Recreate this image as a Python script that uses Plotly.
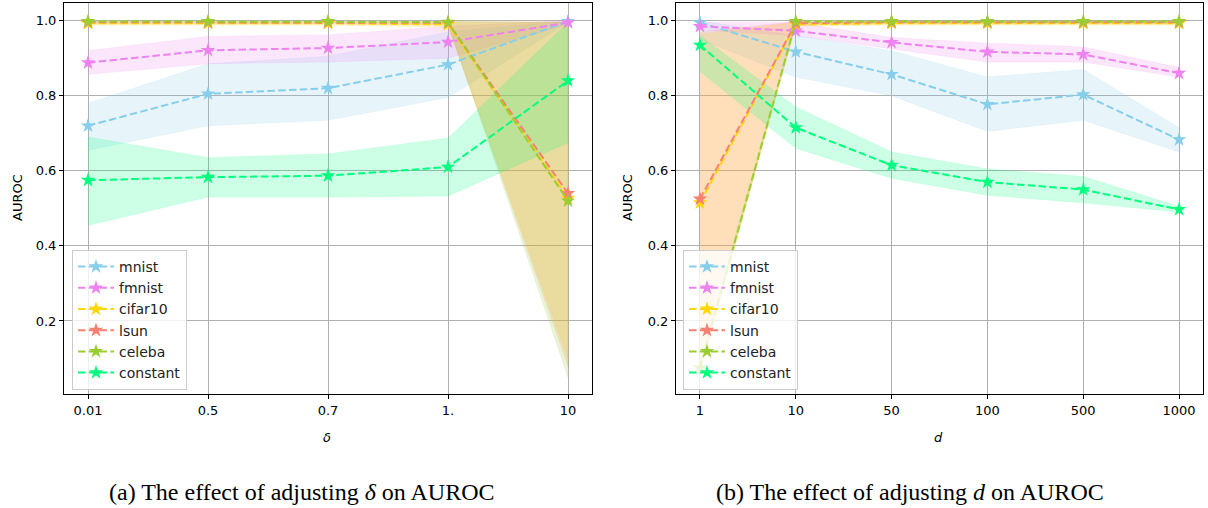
import plotly.graph_objects as go

# ---------------- data ----------------
delta_labels = ["0.01", "0.5", "0.7", "1.", "10"]
d_labels = ["1", "10", "50", "100", "500", "1000"]
series_names = ["mnist", "fmnist", "cifar10", "lsun", "celeba", "constant"]
series_colors = ["#87CEEB", "#EE82EE", "#FFD700", "#FA8072", "#9ACD32", "#00FF7F"]

# panel (a): effect of delta
a_mnist = [0.720, 0.805, 0.820, 0.883, 0.998]
a_mnist_lo = [0.655, 0.720, 0.735, 0.795, 0.995]
a_mnist_hi = [0.780, 0.885, 0.905, 0.970, 1.000]
a_fmnist = [0.888, 0.921, 0.927, 0.943, 0.995]
a_fmnist_lo = [0.857, 0.885, 0.890, 0.900, 0.990]
a_fmnist_hi = [0.920, 0.958, 0.962, 0.985, 1.000]
a_cifar10 = [0.993, 0.993, 0.993, 0.990, 0.527]
a_cifar10_lo = [0.988, 0.988, 0.988, 0.983, 0.100]
a_cifar10_hi = [0.997, 0.997, 0.997, 0.996, 0.995]
a_lsun = [0.996, 0.996, 0.996, 0.994, 0.540]
a_lsun_lo = [0.992, 0.992, 0.992, 0.988, 0.080]
a_lsun_hi = [0.999, 0.999, 0.999, 0.998, 0.997]
a_celeba = [0.998, 0.998, 0.998, 0.996, 0.520]
a_celeba_lo = [0.995, 0.995, 0.995, 0.992, 0.050]
a_celeba_hi = [1.000, 1.000, 1.000, 0.999, 0.995]
a_constant = [0.575, 0.583, 0.587, 0.610, 0.840]
a_constant_lo = [0.455, 0.530, 0.530, 0.533, 0.675]
a_constant_hi = [0.690, 0.635, 0.645, 0.687, 0.995]

# panel (b): effect of d
b_mnist = [0.995, 0.917, 0.857, 0.777, 0.803, 0.683]
b_mnist_lo = [0.950, 0.850, 0.800, 0.705, 0.735, 0.650]
b_mnist_hi = [1.000, 0.960, 0.920, 0.850, 0.870, 0.715]
b_fmnist = [0.985, 0.973, 0.942, 0.917, 0.910, 0.860]
b_fmnist_lo = [0.975, 0.960, 0.925, 0.890, 0.890, 0.850]
b_fmnist_hi = [0.995, 0.995, 0.955, 0.940, 0.930, 0.875]
b_cifar10 = [0.515, 0.990, 0.993, 0.993, 0.993, 0.993]
b_cifar10_lo = [0.060, 0.985, 0.988, 0.988, 0.988, 0.988]
b_cifar10_hi = [0.965, 0.995, 0.997, 0.997, 0.997, 0.997]
b_lsun = [0.525, 0.993, 0.996, 0.996, 0.996, 0.996]
b_lsun_lo = [0.080, 0.988, 0.992, 0.992, 0.992, 0.992]
b_lsun_hi = [0.970, 0.997, 0.999, 0.999, 0.999, 0.999]
b_celeba = [0.075, 0.998, 0.998, 0.998, 0.998, 0.998]
b_celeba_lo = [0.060, 0.995, 0.995, 0.995, 0.995, 0.995]
b_celeba_hi = [0.090, 1.000, 1.000, 1.000, 1.000, 1.000]
b_constant = [0.935, 0.715, 0.615, 0.570, 0.550, 0.497]
b_constant_lo = [0.865, 0.660, 0.580, 0.535, 0.515, 0.490]
b_constant_hi = [0.960, 0.770, 0.650, 0.605, 0.585, 0.505]

panel_a = [
    (a_mnist, a_mnist_lo, a_mnist_hi),
    (a_fmnist, a_fmnist_lo, a_fmnist_hi),
    (a_cifar10, a_cifar10_lo, a_cifar10_hi),
    (a_lsun, a_lsun_lo, a_lsun_hi),
    (a_celeba, a_celeba_lo, a_celeba_hi),
    (a_constant, a_constant_lo, a_constant_hi),
]
panel_b = [
    (b_mnist, b_mnist_lo, b_mnist_hi),
    (b_fmnist, b_fmnist_lo, b_fmnist_hi),
    (b_cifar10, b_cifar10_lo, b_cifar10_hi),
    (b_lsun, b_lsun_lo, b_lsun_hi),
    (b_celeba, b_celeba_lo, b_celeba_hi),
    (b_constant, b_constant_lo, b_constant_hi),
]


def rgba(hexc, a):
    h = hexc.lstrip("#")
    r, g, b = int(h[0:2], 16), int(h[2:4], 16), int(h[4:6], 16)
    return f"rgba({r},{g},{b},{a})"


W, H = 1208, 508
fig = go.Figure()

panels = [
    (delta_labels, panel_a, "x", "y", "legend"),
    (d_labels, panel_b, "x2", "y2", "legend2"),
]

# fills first (below all lines)
for cats, data, xa, ya, lg in panels:
    for (vals, lo, hi), name, col in zip(data, series_names, series_colors):
        fig.add_trace(go.Scatter(
            x=list(cats) + list(cats)[::-1],
            y=list(hi) + list(lo)[::-1],
            fill="toself", fillcolor=rgba(col, 0.2),
            line=dict(width=0.6, color=rgba(col, 0.2)), mode="lines",
            hoverinfo="skip", showlegend=False, xaxis=xa, yaxis=ya,
        ))

for cats, data, xa, ya, lg in panels:
    for (vals, lo, hi), name, col in zip(data, series_names, series_colors):
        fig.add_trace(go.Scatter(
            x=cats, y=vals, name=name, mode="lines+markers",
            line=dict(color=col, width=2, dash="7.5px,3.3px"),
            marker=dict(symbol="star", size=11, color=col, line=dict(width=0)),
            xaxis=xa, yaxis=ya, legend=lg,
        ))

tickfont = dict(family="DejaVu Sans", size=13, color="black")
ax_common = dict(
    showline=True, mirror=True, linecolor="black", linewidth=1,
    ticks="outside", ticklen=4, tickcolor="black", tickwidth=1,
    showgrid=True, gridcolor="#b0b0b0", gridwidth=0.8,
    zeroline=False, tickfont=tickfont,
)
yd = [1 - 394 / H, 1 - 3 / H]
legend_common = dict(
    xanchor="left", yanchor="top",
    bgcolor="rgba(255,255,255,0.8)", bordercolor="#cccccc", borderwidth=1,
    font=dict(family="DejaVu Sans", size=14, color="#222"), itemwidth=36,
)
fig.update_layout(
    width=W, height=H, margin=dict(l=0, r=0, t=0, b=0),
    paper_bgcolor="white", plot_bgcolor="white",
    xaxis=dict(ax_common, type="category", domain=[64 / W, 592 / W], range=[-0.2, 4.2], anchor="y"),
    yaxis=dict(ax_common, domain=yd, range=[0.0055, 1.047], tickvals=[0.2, 0.4, 0.6, 0.8, 1.0],
               ticktext=["0.2", "0.4", "0.6", "0.8", "1.0"], anchor="x"),
    xaxis2=dict(ax_common, type="category", domain=[676 / W, 1203 / W], range=[-0.25, 5.25], anchor="y2"),
    yaxis2=dict(ax_common, domain=yd, range=[0.0055, 1.047], tickvals=[0.2, 0.4, 0.6, 0.8, 1.0],
                ticktext=["0.2", "0.4", "0.6", "0.8", "1.0"], anchor="x2"),
    legend=dict(legend_common, x=72 / W, y=1 - 250 / H),
    legend2=dict(legend_common, x=683 / W, y=1 - 250 / H),
    showlegend=True,
)

ann = []
for xc in (17, 627):
    ann.append(dict(x=xc / W, y=1 - 198 / H, xref="paper", yref="paper", text="AUROC",
                    textangle=-90, showarrow=False, xanchor="center", yanchor="middle",
                    font=dict(family="DejaVu Sans", size=13, color="black")))
ann.append(dict(x=327 / W, y=1 - 437 / H, xref="paper", yref="paper", text="<i>δ</i>",
                showarrow=False, xanchor="center", yanchor="middle",
                font=dict(family="DejaVu Sans", size=13, color="black")))
ann.append(dict(x=938 / W, y=1 - 437 / H, xref="paper", yref="paper", text="<i>d</i>",
                showarrow=False, xanchor="center", yanchor="middle",
                font=dict(family="DejaVu Sans", size=13, color="black")))
ann.append(dict(x=302 / W, y=1 - 492 / H, xref="paper", yref="paper",
                text="(a) The effect of adjusting <i>δ</i> on AUROC",
                showarrow=False, xanchor="center", yanchor="middle",
                font=dict(family="Liberation Serif", size=24, color="black")))
ann.append(dict(x=910 / W, y=1 - 492 / H, xref="paper", yref="paper",
                text="(b) The effect of adjusting <i>d</i> on AUROC",
                showarrow=False, xanchor="center", yanchor="middle",
                font=dict(family="Liberation Serif", size=24, color="black")))
fig.update_layout(annotations=ann)

fig.write_html("out.html", config={"displayModeBar": False},
               post_script="document.body.style.margin='0';")
